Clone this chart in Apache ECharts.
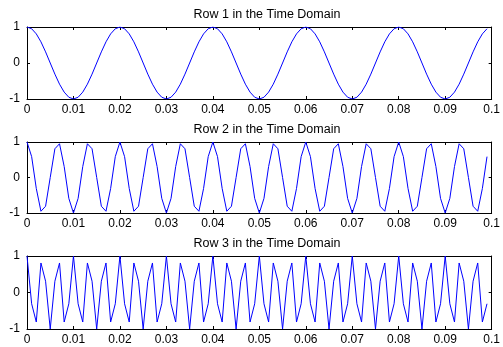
<!DOCTYPE html>
<html>
<head>
<meta charset="utf-8">
<script src="https://cdn.jsdelivr.net/npm/echarts@6/dist/echarts.min.js"></script>
<style>
  html, body { margin: 0; padding: 0; background: #fff; }
  #main { width: 503px; height: 347px; }
</style>
</head>
<body>
<div id="main"></div>
<script>
// sample spacing (s) and axis ticks
var sampleStep = 0.001;
var xTicks = [0, 0.01, 0.02, 0.03, 0.04, 0.05, 0.06, 0.07, 0.08, 0.09, 0.1];
var yTicks = [-1, 0, 1];
var titles = ["Row 1 in the Time Domain", "Row 2 in the Time Domain", "Row 3 in the Time Domain"];

// row 1 samples
var row1 = [
  1, 0.951, 0.809, 0.588, 0.309, 0, -0.309, -0.588, -0.809, -0.951, -1, -0.951, -0.809, -0.588, -0.309, 0, 0.309, 0.588, 0.809, 0.951,
  1, 0.951, 0.809, 0.588, 0.309, 0, -0.309, -0.588, -0.809, -0.951, -1, -0.951, -0.809, -0.588, -0.309, 0, 0.309, 0.588, 0.809, 0.951,
  1, 0.951, 0.809, 0.588, 0.309, 0, -0.309, -0.588, -0.809, -0.951, -1, -0.951, -0.809, -0.588, -0.309, 0, 0.309, 0.588, 0.809, 0.951,
  1, 0.951, 0.809, 0.588, 0.309, 0, -0.309, -0.588, -0.809, -0.951, -1, -0.951, -0.809, -0.588, -0.309, 0, 0.309, 0.588, 0.809, 0.951,
  1, 0.951, 0.809, 0.588, 0.309, 0, -0.309, -0.588, -0.809, -0.951, -1, -0.951, -0.809, -0.588, -0.309, 0, 0.309, 0.588, 0.809, 0.951
];
// row 2 samples
var row2 = [
  1, 0.588, -0.309, -0.951, -0.809, 0, 0.809, 0.951, 0.309, -0.588, -1, -0.588, 0.309, 0.951, 0.809, 0, -0.809, -0.951, -0.309, 0.588,
  1, 0.588, -0.309, -0.951, -0.809, 0, 0.809, 0.951, 0.309, -0.588, -1, -0.588, 0.309, 0.951, 0.809, 0, -0.809, -0.951, -0.309, 0.588,
  1, 0.588, -0.309, -0.951, -0.809, 0, 0.809, 0.951, 0.309, -0.588, -1, -0.588, 0.309, 0.951, 0.809, 0, -0.809, -0.951, -0.309, 0.588,
  1, 0.588, -0.309, -0.951, -0.809, 0, 0.809, 0.951, 0.309, -0.588, -1, -0.588, 0.309, 0.951, 0.809, 0, -0.809, -0.951, -0.309, 0.588,
  1, 0.588, -0.309, -0.951, -0.809, 0, 0.809, 0.951, 0.309, -0.588, -1, -0.588, 0.309, 0.951, 0.809, 0, -0.809, -0.951, -0.309, 0.588
];
// row 3 samples
var row3 = [
  1, -0.309, -0.809, 0.809, 0.309, -1, 0.309, 0.809, -0.809, -0.309,
  1, -0.309, -0.809, 0.809, 0.309, -1, 0.309, 0.809, -0.809, -0.309,
  1, -0.309, -0.809, 0.809, 0.309, -1, 0.309, 0.809, -0.809, -0.309,
  1, -0.309, -0.809, 0.809, 0.309, -1, 0.309, 0.809, -0.809, -0.309,
  1, -0.309, -0.809, 0.809, 0.309, -1, 0.309, 0.809, -0.809, -0.309,
  1, -0.309, -0.809, 0.809, 0.309, -1, 0.309, 0.809, -0.809, -0.309,
  1, -0.309, -0.809, 0.809, 0.309, -1, 0.309, 0.809, -0.809, -0.309,
  1, -0.309, -0.809, 0.809, 0.309, -1, 0.309, 0.809, -0.809, -0.309,
  1, -0.309, -0.809, 0.809, 0.309, -1, 0.309, 0.809, -0.809, -0.309,
  1, -0.309, -0.809, 0.809, 0.309, -1, 0.309, 0.809, -0.809, -0.309
];
var rows = [row1, row2, row3];

var chart = echarts.init(document.getElementById("main"));

// plot boxes [top, height]
var boxes = [[27, 72], [142, 71], [256, 73]];
var font = "Liberation Sans, Arial, sans-serif";
var lineStyle = { color: "#000", width: 1 };

var grid = [], xAxis = [], yAxis = [], series = [], title = [];

boxes.forEach(function (b, i) {
  grid.push({ left: 27, right: 7, top: b[0], height: b[1] });
  title.push({
    text: titles[i],
    left: 262, top: b[0] - 24, textAlign: "center",
    textStyle: { fontFamily: font, fontSize: 12.5, fontWeight: "normal", color: "#000" }
  });

  // bottom and top x axes
  ["bottom", "top"].forEach(function (pos) {
    xAxis.push({
      gridIndex: i, type: "value", position: pos,
      min: xTicks[0], max: xTicks[xTicks.length - 1], interval: 0.01,
      axisLine: { onZero: false, lineStyle: lineStyle },
      axisTick: { inside: true, length: 3, lineStyle: lineStyle },
      axisLabel: {
        show: pos === "bottom", margin: 5, color: "#000",
        fontFamily: font, fontSize: 12,
        formatter: function (v) { return String(+v.toFixed(2)); }
      },
      splitLine: { show: false }
    });
  });
  // left and right y axes
  ["left", "right"].forEach(function (pos) {
    yAxis.push({
      gridIndex: i, type: "value", position: pos,
      min: yTicks[0], max: yTicks[yTicks.length - 1], interval: 1,
      axisLine: { onZero: false, lineStyle: lineStyle },
      axisTick: { inside: true, length: 3, lineStyle: lineStyle },
      axisLabel: {
        show: pos === "left", margin: 7, color: "#000",
        fontFamily: font, fontSize: 12
      },
      splitLine: { show: false }
    });
  });

  series.push({
    type: "line",
    xAxisIndex: i * 2, yAxisIndex: i * 2,
    data: rows[i].map(function (v, k) { return [k * sampleStep, v]; }),
    showSymbol: false, symbol: "none",
    lineStyle: { color: "#0000ff", width: 1 },
    animation: false
  });
});

chart.setOption({
  animation: false,
  title: title,
  grid: grid,
  xAxis: xAxis,
  yAxis: yAxis,
  series: series
});
</script>
</body>
</html>
